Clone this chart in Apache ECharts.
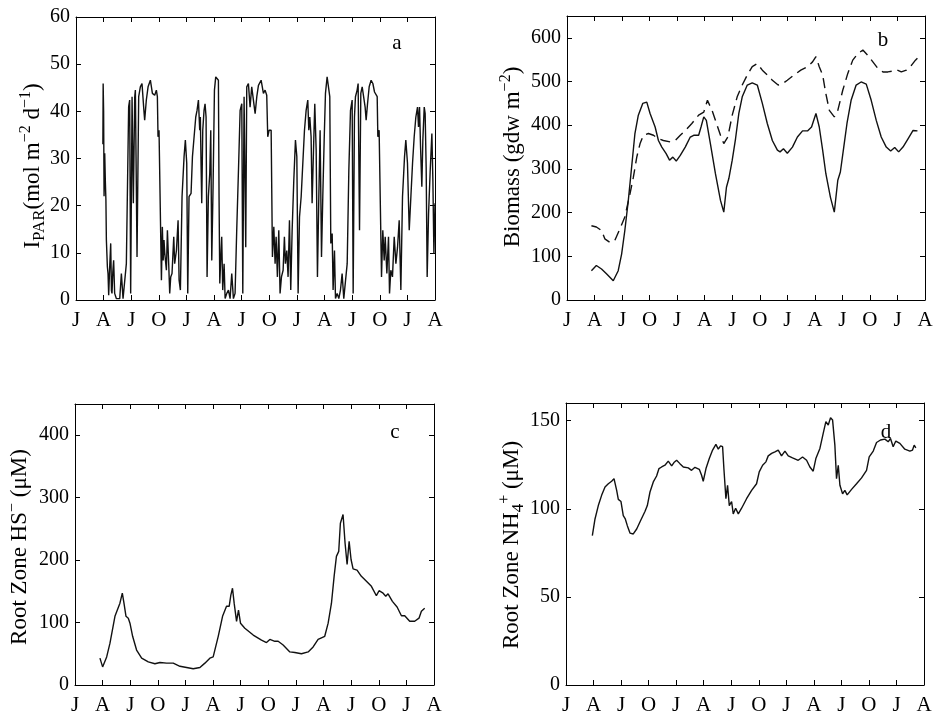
<!DOCTYPE html>
<html><head><meta charset="utf-8">
<script src="https://cdn.jsdelivr.net/npm/echarts@6/dist/echarts.min.js"></script>
<style>html,body{margin:0;padding:0;background:#fff}#chart{width:934px;height:717px}</style>
</head><body><div id="chart"></div>
<script>
// x in months from January of year 1; ticks every 3 months
const X_TICK_LABELS = ['J','A','J','O','J','A','J','O','J','A','J','O','J','A'];

// Panel a: I_PAR (mol m-2 d-1)
const IPAR = [[2.92,33],[2.95,45.9],[3.0,40],[3.05,22],[3.12,31.1],[3.19,25],[3.25,21.2],[3.30,12.7],[3.41,7],[3.48,5.6],[3.55,1],[3.66,7],[3.77,12.0],[3.85,2],[3.91,1.4],[4.0,6],[4.09,8.4],[4.2,1.4],[4.38,0.3],[4.56,0.6],[4.75,0.3],[4.93,5.6],[5.11,0.3],[5.29,0.3],[5.47,7.7],[5.6,25],[5.72,41],[5.83,42.4],[5.94,1.4],[6.09,43.1],[6.23,20.5],[6.38,43.1],[6.45,44.5],[6.63,9.1],[6.81,43.1],[6.99,45.2],[7.17,45.9],[7.35,40.9],[7.46,38.1],[7.64,42.4],[7.83,45.2],[8.08,46.6],[8.3,43.8],[8.55,43.4],[8.73,44.5],[8.84,43.1],[8.91,34.6],[9.02,36.0],[9.2,36.0],[9.28,4.2],[9.38,15.5],[9.47,8.4],[9.56,12.7],[9.64,10],[9.82,6.3],[9.93,14.8],[10.07,7.7],[10.18,1.4],[10.29,4.9],[10.43,5.6],[10.62,13.4],[10.72,7.7],[10.91,10.5],[11.09,16.9],[11.2,4.2],[11.34,2.1],[11.52,21.9],[11.74,30.4],[11.88,33.9],
[12.03,29.0],[12.14,1.4],[12.28,21.9],[12.5,22.6],[12.65,30.4],[12.83,34.6],[13.01,38.8],[13.15,40.2],[13.3,42.4],[13.44,36.0],[13.51,38.8],[13.59,28.2],[13.66,20.5],[13.77,36.0],[13.91,40.2],[14.02,41.6],[14.13,38.8],[14.24,4.9],[14.38,21.9],[14.53,26.8],[14.64,36.0],[14.75,8.4],[14.89,24.0],[15.04,44.5],[15.18,47.3],[15.36,47.7],[15.47,46.6],[15.54,21.9],[15.62,3.5],[15.76,10.5],[15.83,13.4],[15.94,2.1],[16.09,7.7],[16.2,0.3],[16.38,1.4],[16.56,2.1],[16.74,0.3],[16.92,5.6],[17.1,0.3],[17.28,1.4],[17.46,14.8],[17.65,27.5],[17.83,40.2],[18.01,41.6],[18.12,1.4],[18.26,43.1],[18.44,11.2],[18.55,45.2],[18.73,45.9],[18.91,40.9],[19.09,45.2],[19.28,45.5],[19.46,39.5],[19.64,43.1],[19.82,45.5],[20.11,46.6],[20.36,43.8],[20.54,44.5],[20.72,43.4],[20.83,34.6],[20.98,36.0],[21.2,36.0],[21.34,9.1],[21.49,15.5],[21.63,7.7],
[21.74,13.4],[21.88,4.9],[22.03,14.8],[22.17,1.4],[22.32,4.9],[22.5,6.3],[22.64,13.4],[22.75,7.7],[22.9,10.5],[23.04,4.9],[23.19,16.9],[23.33,2.1],[23.48,14.8],[23.66,25.4],[23.84,33.9],[23.99,30.4],[24.13,1.4],[24.28,17.6],[24.46,21.9],[24.64,29.0],[24.82,36.0],[25.0,40.2],[25.18,42.4],[25.29,36.0],[25.4,38.8],[25.54,34.6],[25.65,20.5],[25.83,33.9],[25.94,41.6],[26.09,31.8],[26.23,4.9],[26.38,21.9],[26.52,36.0],[26.67,9.1],[26.81,21.9],[26.96,33.9],[27.1,43.8],[27.28,47.3],[27.46,47.3],[27.57,43.1],[27.68,12.0],[27.83,14.1],[27.93,2.1],[28.08,10.5],[28.19,0.3],[28.37,1.4],[28.55,0.3],[28.73,2.1],[28.91,5.6],[29.09,0.3],[29.28,0.3],[29.46,7.7],[29.64,27.5],[29.82,40.2],[30.0,42.4],[30.11,1.4],[30.25,38.8],[30.36,43.1],[30.54,44.5],[30.65,45.9],[30.8,14.8],[30.94,43.8],[31.09,45.2],
[31.23,45.2],[31.41,40.9],[31.52,38.1],[31.67,41.6],[31.85,45.2],[32.06,46.6],[32.25,45.9],[32.43,44.1],[32.57,44.5],[32.72,43.1],[32.79,34.6],[32.93,36.0],[33.08,36.0],[33.19,4.9],[33.33,14.8],[33.48,8.4],[33.59,13.4],[33.77,5.6],[33.95,13.4],[34.06,1.4],[34.2,6.3],[34.38,4.9],[34.57,13.4],[34.75,7.7],[34.93,11.2],[35.11,16.9],[35.29,2.1],[35.47,21.9],[35.69,30.4],[35.83,33.9],[36.01,29.0],[36.2,14.8],[36.38,21.9],[36.56,29.0],[36.74,34.6],[36.92,38.8],[37.1,40.9],[37.21,36.7],[37.32,40.9],[37.43,32.5],[37.57,24.0],[37.68,33.9],[37.83,40.9],[37.93,39.5],[38.04,28.2],[38.15,4.9],[38.3,18.3],[38.48,27.5],[38.66,35.3],[38.77,25.4],[38.88,9.8],[39.0,20.5]];

// Panel b: Biomass (gdw m-2), solid and dashed
const BIOMASS_SOLID = [[2.66,67],[3.2,79],[3.76,71],[4.3,60],[5.04,44],[5.2,44],[5.58,67],[5.95,105],[6.3,159],[6.68,228],[7.04,304],[7.4,381],[7.77,423],[8.25,450],[8.69,453],[9.05,427],[9.6,396],[9.96,365],[10.33,350],[10.8,335],[11.17,320],[11.53,327],[11.9,318],[12.34,331],[12.88,350],[13.43,373],[13.8,377],[14.34,377],[14.6,396],[14.9,419],[15.18,411],[15.62,358],[16.17,289],[16.72,228],[17.08,201],[17.37,258],[17.63,278],[18.0,320],[18.36,369],[18.72,427],[19.09,465],[19.64,492],[20.18,497],[20.73,492],[21.28,450],[21.82,404],[22.37,365],[22.92,343],[23.21,339],[23.58,346],[24.0,336],[24.56,350],[25.1,373],[25.66,387],[26.2,387],[26.64,396],[27.12,427],[27.48,396],[27.85,343],[28.2,289],[28.7,235],[29.12,201],[29.5,274],[29.78,293],[30.15,350],[30.5,404],[30.95,457],[31.5,492],[32.04,499],[32.6,494],[33.14,457],[33.69,411],[34.23,373],[34.78,350],[35.26,341],[35.7,349],[36.13,339],[36.6,350],[37.15,369],[37.7,388],[38.18,387]];
const BIOMASS_DASHED = [[2.66,170],[3.2,167],[3.76,159],[4.12,140],[4.67,132],[5.2,136],[5.77,163],[6.3,190],[6.86,243],[7.23,281],[7.6,327],[7.96,358],[8.32,377],[8.87,381],[9.42,377],[9.96,369],[10.5,365],[11.24,362],[11.79,365],[12.34,377],[13.07,392],[13.6,404],[14.34,423],[14.9,430],[15.3,457],[15.8,434],[16.35,400],[16.72,377],[17.08,358],[17.52,373],[18.0,423],[18.54,465],[19.09,492],[19.64,515],[20.18,534],[20.73,541],[21.28,526],[21.82,515],[22.37,503],[23.0,492],[23.47,495],[24.0,503],[24.74,515],[25.47,526],[26.2,534],[26.75,545],[27.12,557],[27.48,534],[27.85,515],[28.2,472],[28.58,434],[29.12,419],[29.5,434],[30.04,480],[30.58,518],[31.13,549],[31.68,564],[32.23,572],[32.77,560],[33.32,545],[33.87,530],[34.42,522],[34.96,522],[35.5,524],[35.88,527],[36.42,522],[36.97,526],[37.52,537],[37.96,549],[38.25,555]];

// Panel c: Root zone HS- (uM)
const HS = [[2.71,43],[3.0,29],[3.44,45],[3.8,67],[4.34,110],[4.88,131],[5.14,147],[5.32,131],[5.54,110],[5.79,107],[5.97,99],[6.26,78],[6.69,56],[7.24,43],[7.96,37],[8.68,34],[9.23,36],[9.95,35],[10.67,35],[11.4,30],[12.12,28],[12.84,26],[13.57,28],[14.11,35],[14.65,43],[15.01,45],[15.56,78],[16.03,110],[16.46,126],[16.75,126],[16.93,144],[17.11,155],[17.29,131],[17.55,102],[17.76,120],[17.98,99],[18.45,91],[19.36,80],[20.26,72],[20.8,68],[21.17,73],[21.71,70],[22.07,70],[22.61,64],[23.34,53],[23.88,52],[24.6,50],[25.33,53],[25.87,61],[26.41,73],[27.13,78],[27.5,99],[27.86,131],[28.15,174],[28.4,206],[28.65,214],[28.83,259],[29.12,273],[29.34,227],[29.56,193],[29.78,230],[29.99,201],[30.21,186],[30.64,184],[31.11,174],[31.66,166],[32.2,158],[32.74,143],[33.03,151],[33.47,147],[33.76,142],[34.01,146],[34.48,134],[34.99,125],[35.46,111],[35.82,111],[36.36,102],[36.9,102],[37.37,107],[37.63,118],[37.99,123]];

// Panel d: Root zone NH4+ (uM)
const NH4 = [[2.87,84.7],[3.16,94.2],[3.52,101.8],[3.88,107.6],[4.25,112.3],[4.61,114.2],[4.97,115.6],[5.23,117.1],[5.52,110.4],[5.7,105.3],[5.99,104.1],[6.24,96.1],[6.46,94.2],[6.68,90.4],[6.97,86.2],[7.33,85.7],[7.7,88.5],[8.13,93.3],[8.6,98.4],[8.86,101.8],[9.15,109.5],[9.51,115.2],[9.87,118.6],[10.13,122.8],[10.42,123.7],[10.78,124.7],[11.14,127.0],[11.51,124.3],[11.76,126.2],[12.05,127.5],[12.41,125.6],[12.78,123.7],[13.32,123.2],[13.68,121.8],[14.05,123.5],[14.52,122.4],[14.77,119.0],[14.95,115.6],[15.25,122.8],[15.61,128.5],[15.97,133.3],[16.33,136.5],[16.59,133.8],[16.84,135.7],[17.06,135.2],[17.2,122.8],[17.42,105.7],[17.6,113.3],[17.79,101.8],[18.04,104.1],[18.22,97.1],[18.48,100.3],[18.77,97.1],[19.13,100.3],[19.67,105.7],[20.22,110.4],[20.76,114.2],[21.05,120.9],[21.42,124.7],[21.78,126.6],[22.03,130.0],[22.4,131.4],[22.76,132.3],[23.12,133.3],[23.48,130.0],[23.85,132.7],[24.21,130.0],[24.68,128.9],[25.3,127.5],[25.77,129.4],[26.21,127.5],[26.57,123.7],[26.93,121.3],[27.22,128.5],[27.66,134.2],[28.02,142.8],[28.31,149.4],[28.57,147.5],[28.82,151.7],[29.04,150.4],[29.29,136.1],[29.47,117.1],[29.66,124.7],[29.84,113.3],[30.13,108.5],[30.38,110.4],[30.63,107.9],[31.11,111.0],[31.65,114.2],[32.2,117.5],[32.74,121.8],[33.03,129.4],[33.47,132.7],[33.83,137.6],[34.26,139.0],[34.74,139.5],[35.1,138.0],[35.35,139.9],[35.64,135.2],[35.93,138.4],[36.37,137.1],[36.91,133.8],[37.46,132.7],[37.75,133.3],[37.93,136.1],[38.11,134.6]];

const FONT = 'Liberation Serif';
const panels = [
  {grid:{left:76, top:17, width:359, height:283}, ymax:60, yint:10},
  {grid:{left:567, top:16, width:358, height:284}, ymax:650, yint:100},
  {grid:{left:75, top:404, width:359, height:281}, ymax:450, yint:100},
  {grid:{left:566, top:403, width:358, height:282}, ymax:160, yint:50}
];

const grids = [], xAxes = [], yAxes = [];
panels.forEach((p, i) => {
  grids.push(Object.assign({outerBoundsMode:'none', containLabel:false}, p.grid));
  const line = {show:true, onZero:false, lineStyle:{color:'#000', width:1}};
  const tick = {show:true, inside:true, length:5, lineStyle:{color:'#000', width:1}};
  ['bottom','top'].forEach((pos, k) => {
    xAxes.push({type:'value', gridIndex:i, position:pos, min:0, max:39, interval:3,
      axisLine:line, axisTick:tick, splitLine:{show:false},
      axisLabel:{show:k===0, margin:10, color:'#000', fontFamily:FONT, fontSize:21,
        formatter:v => X_TICK_LABELS[Math.round(v/3)] || ''}});
  });
  ['left','right'].forEach((pos, k) => {
    yAxes.push({type:'value', gridIndex:i, position:pos, min:0, max:p.ymax, interval:p.yint,
      axisLine:line, axisTick:tick, splitLine:{show:false},
      axisLabel:{show:k===0, margin:6, color:'#000', fontFamily:FONT, fontSize:20,
        formatter:v => (Math.abs(v % p.yint) < 1e-9 ? String(v) : '')}});
  });
});

const lineSeries = (data, idx, dash) => ({
  type:'line', data:data, xAxisIndex:idx*2, yAxisIndex:idx*2,
  showSymbol:false, symbol:'none', silent:true,
  lineStyle:{color:'#111', width:1.4, type: dash ? [10,6] : 'solid'}
});

const M = {fill:'#000', fontFamily:FONT, fontSize:23, lineHeight:30, verticalAlign:'middle'};
const SUP = {fill:'#000', fontFamily:FONT, fontSize:16, lineHeight:15, verticalAlign:'top'};
const SUB = {fill:'#000', fontFamily:FONT, fontSize:17, lineHeight:15, verticalAlign:'bottom'};
const RICH = {m:M, p:SUP, s:SUB};
const yTitle = (x, y, text) => ({type:'text', x:x, y:y, rotation:Math.PI/2,
  style:{text:text, rich:RICH, align:'center', verticalAlign:'middle', fill:'#000'}});
const letter = (x, y, t) => ({type:'text', x:x, y:y,
  style:{text:t, fill:'#000', font:'21px "Liberation Serif"', align:'center', verticalAlign:'middle'}});

const chart = echarts.init(document.getElementById('chart'), null, {renderer:'canvas'});
chart.setOption({
  animation:false,
  backgroundColor:'#fff',
  grid:grids, xAxis:xAxes, yAxis:yAxes,
  series:[
    lineSeries(IPAR, 0, false),
    lineSeries(BIOMASS_SOLID, 1, false),
    lineSeries(BIOMASS_DASHED, 1, true),
    lineSeries(HS, 2, false),
    lineSeries(NH4, 3, false)
  ],
  graphic:[
    yTitle(33, 166, '{m|I}{s|PAR}{m|(mol m}{p|−2}{m| d}{p|−1}{m|)}'),
    yTitle(513, 157, '{m|Biomass (gdw m}{p|−2}{m|)}'),
    yTitle(20, 547, '{m|Root Zone HS}{p|−}{m| (μM)}'),
    yTitle(512, 545, '{m|Root Zone NH}{s|4}{p|+}{m| (μM)}'),
    letter(397, 43, 'a'),
    letter(883, 40, 'b'),
    letter(395, 432, 'c'),
    letter(886, 432, 'd')
  ]
});
</script></body></html>
